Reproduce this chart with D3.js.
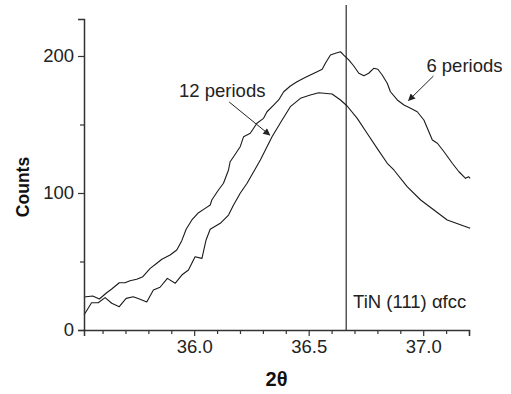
<!DOCTYPE html>
<html><head><meta charset="utf-8">
<script src="https://cdn.jsdelivr.net/npm/d3@7"></script>
<style>body{margin:0;background:#fff;} svg{display:block;font-family:"Liberation Sans",Arial,sans-serif;}</style>
</head><body>
<svg id="c" width="511" height="394"></svg>
<script>
// 6 periods (upper curve): [2theta, counts]
const sixPeriods = [
[35.519,24.1],[35.557,24.8],[35.586,22.6],[35.618,27.2],[35.640,29.9],[35.673,34.5],[35.698,34.5],
[35.720,36.0],[35.749,37.0],[35.776,38.9],[35.808,45.0],[35.837,48.7],[35.859,51.6],[35.895,54.7],
[35.924,58.4],[35.946,65.2],[35.965,73.5],[35.990,80.3],[36.019,85.6],[36.048,88.8],[36.070,91.2],
[36.077,94.9],[36.106,102.2],[36.128,107.1],[36.150,116.8],[36.157,122.8],[36.172,126.5],[36.201,133.8],
[36.216,141.1],[36.245,143.6],[36.274,150.9],[36.303,154.5],[36.318,159.3],[36.347,164.2],[36.369,167.9],
[36.391,173.9],[36.420,178.1],[36.449,181.2],[36.478,183.7],[36.507,186.1],[36.537,188.5],[36.559,190.3],
[36.573,194.7],[36.595,200.7],[36.617,202.0],[36.639,203.1],[36.653,200.7],[36.675,197.1],[36.697,192.7],
[36.719,187.4],[36.741,185.6],[36.762,187.4],[36.784,191.0],[36.802,190.3],[36.821,186.1],[36.843,180.1],
[36.857,173.9],[36.887,167.9],[36.916,164.2],[36.945,161.8],[36.974,159.3],[37.003,153.3],[37.040,138.7],
[37.062,136.3],[37.091,130.1],[37.127,121.7],[37.156,115.5],[37.185,110.7],[37.198,111.9],[37.205,110.7]
];
// 12 periods (lower curve)
const twelvePeriods = [
[35.519,10.9],[35.552,19.9],[35.581,19.9],[35.611,23.6],[35.640,19.5],[35.673,17.0],[35.703,23.1],
[35.734,24.3],[35.764,22.4],[35.793,20.4],[35.822,29.2],[35.851,31.2],[35.883,37.7],[35.917,34.1],
[35.946,40.1],[35.975,43.8],[36.004,53.5],[36.034,52.3],[36.052,65.7],[36.070,73.5],[36.114,77.9],
[36.150,83.9],[36.172,91.2],[36.201,99.8],[36.231,107.1],[36.289,124.1],[36.340,141.1],[36.384,153.3],
[36.420,163.0],[36.464,169.1],[36.507,171.5],[36.544,173.2],[36.602,172.3],[36.639,167.9],[36.668,163.5],
[36.712,154.5],[36.755,143.6],[36.799,132.6],[36.843,121.7],[36.872,116.8],[36.930,104.6],[36.989,94.9],
[37.047,87.6],[37.105,80.3],[37.205,74.2]
];
const xTicks = [36.0, 36.5, 37.0];
const xMinorTicks = [35.6,35.7,35.8,35.9,36.1,36.2,36.3,36.4,36.6,36.7,36.8,36.9,37.1,37.2];
const yTicks = [0, 100, 200];
const yMinorTicks = [50, 150];
const refLine = {x: 36.664, label: "TiN (111) \u03b1fcc", labelX: 36.694, labelY: 16.3};
const annotations = [
  {text: "12 periods", tx: 35.934, ty: 170.4, from: [36.153,166.4], to: [36.330,142.3]},
  {text: "6 periods", tx: 37.014, ty: 188.3, from: [37.045,185.4], to: [36.936,167.5]}
];
const xDomain = [35.519, 37.2];
const yDomain = [0, 227];

const svg = d3.select("#c");
const m = {l:84, r:42, t:19, b:64};
const W = 511, H = 394;
const x = d3.scaleLinear().domain(xDomain).range([m.l, W-m.r]);
const y = d3.scaleLinear().domain(yDomain).range([H-m.b, m.t]);
const axisCol = "#333";

// reference line
svg.append("line").attr("x1", x(refLine.x)).attr("x2", x(refLine.x))
  .attr("y1", 5).attr("y2", y(0)).attr("stroke", "#555").attr("stroke-width", 1.5);
svg.append("text").attr("x", x(refLine.labelX)).attr("y", y(refLine.labelY))
  .attr("font-size", 18.5).attr("fill", "#222").text(refLine.label);

// curves
const line = d3.line().x(d => x(d[0])).y(d => y(d[1]));
[sixPeriods, twelvePeriods].forEach(s => {
  svg.append("path").datum(s).attr("d", line).attr("fill", "none")
    .attr("stroke", "#1a1a1a").attr("stroke-width", 1.1).attr("stroke-linejoin", "round");
});

// axes
const gx = svg.append("g").attr("transform", `translate(0,${y(0)})`)
  .call(d3.axisBottom(x).tickValues(xTicks).tickFormat(d3.format(".1f")).tickSize(6).tickPadding(4));
const gxm = svg.append("g").attr("transform", `translate(0,${y(0)})`)
  .call(d3.axisBottom(x).tickValues(xMinorTicks).tickFormat("").tickSize(4));
const gy = svg.append("g").attr("transform", `translate(${x(xDomain[0])},0)`)
  .call(d3.axisLeft(y).tickValues(yTicks).tickFormat(d3.format("d")).tickSize(6).tickPadding(4));
const gym = svg.append("g").attr("transform", `translate(${x(xDomain[0])},0)`)
  .call(d3.axisLeft(y).tickValues(yMinorTicks).tickFormat("").tickSize(4));
gxm.select(".domain").remove();
gym.select(".domain").remove();
[gx, gxm, gy, gym].forEach(g => {
  g.selectAll(".domain").attr("stroke", axisCol).attr("stroke-width", 1.5);
  g.selectAll(".tick line").attr("stroke", axisCol).attr("stroke-width", 1.2);
  g.selectAll("text").attr("font-size", 18.5).attr("fill", "#222")
    .attr("font-family", "'Liberation Sans', Arial, sans-serif");
});
gx.selectAll(".tick text").attr("dy", "0.71em");

// axis titles
svg.append("text").attr("x", (x.range()[0]+x.range()[1])/2).attr("y", 386)
  .attr("text-anchor", "middle").attr("font-size", 20).attr("font-weight", "bold")
  .attr("fill", "#111").text("2\u03b8");
svg.append("text").attr("transform", `translate(29,187) rotate(-90)`)
  .attr("text-anchor", "middle").attr("font-size", 17.5).attr("font-weight", "bold")
  .attr("fill", "#111").text("Counts");

// annotations
svg.append("defs").append("marker").attr("id", "ah").attr("viewBox", "0 0 10 10")
  .attr("refX", 9).attr("refY", 5).attr("markerWidth", 9).attr("markerHeight", 7)
  .attr("markerUnits", "userSpaceOnUse").attr("orient", "auto")
  .append("path").attr("d", "M0,0L10,5L0,10Z").attr("fill", "#222");
annotations.forEach(a => {
  svg.append("text").attr("x", x(a.tx)).attr("y", y(a.ty)).attr("font-size", 18.5)
    .attr("fill", "#222").text(a.text);
  svg.append("line").attr("x1", x(a.from[0])).attr("y1", y(a.from[1]))
    .attr("x2", x(a.to[0])).attr("y2", y(a.to[1])).attr("stroke", "#222")
    .attr("stroke-width", 1).attr("marker-end", "url(#ah)");
});
</script>
</body></html>
